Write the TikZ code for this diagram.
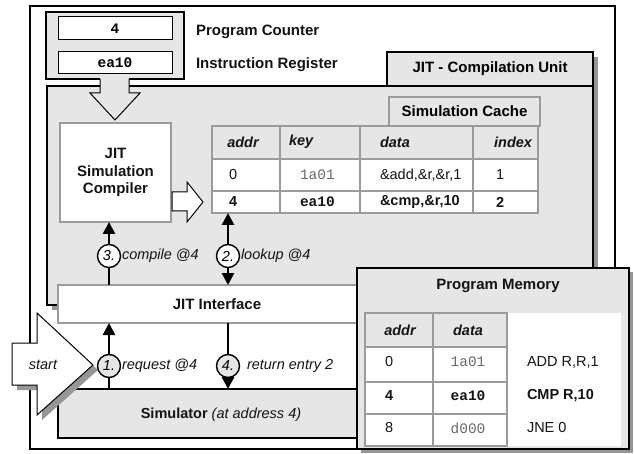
\documentclass[tikz,border=0pt]{standalone}
\usepackage{fontspec}
\setmainfont{Liberation Sans}
\setmonofont{Liberation Mono}
\usetikzlibrary{arrows.meta}
\definecolor{lg}{RGB}{230,230,230}
\definecolor{sh}{RGB}{150,150,150}
\definecolor{bd}{RGB}{155,155,155}
\definecolor{codegray}{RGB}{105,105,105}
\definecolor{ink}{RGB}{20,20,20}
\tikzset{
  box/.style={inner sep=0pt, outer sep=0pt},
  txt/.style={inner sep=0pt, outer sep=0pt, text=ink},
  grid/.style={draw=bd, line width=2pt},
  arr/.style={line width=2.6pt, -{Triangle[width=12pt,length=12pt]}},
  darr/.style={line width=2.6pt, {Triangle[width=12pt,length=12pt]}-{Triangle[width=12pt,length=12pt]}},
  circ/.style={circle, draw, line width=1.4pt, minimum size=23pt, inner sep=0pt, font=\fontsize{14.5}{17}\selectfont\itshape},
  hollow/.style={draw, line width=1pt, line join=miter},
}
\begin{document}
\begin{tikzpicture}[x=1pt,y=-1pt, font=\fontsize{14.5}{17}\selectfont]
\useasboundingbox[fill=white] (0,0) rectangle (634,454);

% outer frame
\node[box, draw, line width=1.2pt, fill=white, minimum width=585pt, minimum height=443pt] (frame) at (322.5,227.5) {};

% register box
\node[box, draw, line width=2pt, fill=lg, minimum width=138pt, minimum height=67pt] (reg) at (115,45.5) {};
\node[box, draw, line width=1pt, fill=white, minimum width=114pt, minimum height=23pt, font=\fontsize{14.5}{17}\selectfont\ttfamily\bfseries] (pc) at (115,28.5) {4};
\node[box, draw, line width=1pt, fill=white, minimum width=114pt, minimum height=22pt, font=\fontsize{14.5}{17}\selectfont\ttfamily\bfseries] (ir) at (115,63) {ea10};
\node[txt, anchor=west, font=\fontsize{15}{17}\selectfont\bfseries] (pclbl) at (196,32) {Program Counter};
\node[txt, anchor=west, font=\fontsize{15}{17}\selectfont\bfseries] (irlbl) at (196,65) {Instruction Register};

% compilation unit shadow + region
\fill[sh] (52,91) rectangle (598,310);
\fill[sh] (392,57) rectangle (598,91);
\node[box, draw, line width=1.2pt, fill=lg, minimum width=546pt, minimum height=219pt] (cu) at (320,195.5) {};
\node[box, draw, line width=1.6pt, fill=lg, minimum width=206pt, minimum height=34pt, font=\fontsize{15}{17}\selectfont\bfseries] (cutab) at (490,69) {JIT - Compilation Unit};

% down arrow from registers
\fill[lg] (100,76) -- (100,93) -- (90,93) -- (115,120) -- (140,93) -- (129,93) -- (129,76) -- cycle;
\draw[line width=1pt, line join=miter] (100,79) -- (100,93) -- (90,93) -- (115,120) -- (140,93) -- (129,93) -- (129,79);

% simulation cache
\node[box, draw=bd, line width=1.6pt, fill=lg, minimum width=151pt, minimum height=29pt, font=\fontsize{15}{17}\selectfont\bfseries] (cachetab) at (464.5,111.5) {Simulation Cache};
\fill[lg] (212,126) rectangle (538,159);
\fill[white] (212,159) rectangle (538,213);
\foreach \x in {212,280,360,473,538} \draw[grid] (\x,126) -- (\x,213);
\foreach \y in {126,159,191,213} \draw[grid] (211,\y) -- (539,\y);
\node[txt, font=\fontsize{14.5}{17}\selectfont\bfseries\itshape] (h1) at (243,142) {addr};
\node[txt, anchor=west, font=\fontsize{14.5}{17}\selectfont\bfseries\itshape] (h2) at (289,142) {key};
\node[txt, anchor=west, font=\fontsize{14.5}{17}\selectfont\bfseries\itshape] (h3) at (380,142) {data};
\node[txt, anchor=east, font=\fontsize{14.5}{17}\selectfont\bfseries\itshape] (h4) at (532,142) {index};
\node[txt, anchor=west] (r1a) at (229,175) {0};
\node[txt, anchor=west, text=codegray, font=\fontsize{14.5}{17}\selectfont\ttfamily] (r1b) at (300,175) {1a01};
\node[txt, anchor=west] (r1c) at (380,175) {\&add,\&r,\&r,1};
\node[txt, anchor=west] (r1d) at (496,175) {1};
\node[txt, anchor=west, font=\fontsize{14.5}{17}\selectfont\bfseries] (r2a) at (229,202) {4};
\node[txt, anchor=west, font=\fontsize{14.5}{17}\selectfont\ttfamily\bfseries] (r2b) at (300,202) {ea10};
\node[txt, anchor=west, font=\fontsize{14.5}{17}\selectfont\bfseries] (r2c) at (380,202) {\&cmp,\&r,10};
\node[txt, anchor=west, font=\fontsize{14.5}{17}\selectfont\bfseries] (r2d) at (496,202) {2};
\coordinate (tablebottom) at (228,213);

% compiler
\node[box, draw=bd, line width=1.2pt, fill=white, minimum width=111pt, minimum height=99pt, align=center, text=ink, font=\fontsize{15}{17.5}\selectfont\bfseries] (comp) at (115.5,172.5) {JIT\\Simulation\\Compiler};
\draw[hollow, fill=white] (172,192) -- (187,192) -- (187,182) -- (203,202) -- (187,222) -- (187,211) -- (172,211) -- cycle;

% JIT interface and simulator
\node[box, draw=bd, line width=1.2pt, fill=white, minimum width=542pt, minimum height=38pt] (jit) at (329,304) {};
\node[txt, font=\fontsize{15}{17}\selectfont\bfseries] (jitlbl) at (217,304) {JIT Interface};
\node[box, draw, line width=1.6pt, fill=lg, minimum width=542pt, minimum height=49pt] (sim) at (329,413.5) {};
\node[txt] (simlbl) at (221,415) {\textbf{Simulator} \textit{(at address 4)}};

% start arrow
\fill[sh] (17,348) -- (42,348) -- (42,318) -- (98,370) -- (42,420) -- (42,390) -- (17,390) -- cycle;
\draw[hollow, fill=white] (12,343) -- (37,343) -- (37,313) -- (93,365) -- (37,415) -- (37,385) -- (12,385) -- cycle;
\node[txt, font=\fontsize{14.5}{17}\selectfont\itshape] (start) at (43,365) {start};

% arrows and circles
\coordinate (p3) at (109,256);
\coordinate (p2) at (228,256);
\coordinate (p1) at (109,366);
\coordinate (p4) at (228,366);
\draw[arr] (p3 |- jit.north) -- (p3 |- comp.south);
\draw[darr] (p2 |- jit.north) -- (tablebottom);
\draw[arr] (p1 |- sim.north) -- (p1 |- jit.south);
\draw[arr] (p4 |- jit.south) -- (p4 |- sim.north);
\node[circ, fill=white] (c3) at (p3) {3.};
\node[circ, fill=white] (c2) at (p2) {2.};
\node[circ, fill=lg] (c1) at (p1) {1.};
\node[circ, fill=lg] (c4) at (p4) {4.};
\node[txt, anchor=west, font=\fontsize{14.5}{17}\selectfont\itshape] (l3) at (122,256) {compile @4};
\node[txt, anchor=west, font=\fontsize{14.5}{17}\selectfont\itshape] (l2) at (241,256) {lookup @4};
\node[txt, anchor=west, font=\fontsize{14.5}{17}\selectfont\itshape] (l1) at (122,366) {request @4};
\node[txt, anchor=west, font=\fontsize{14.5}{17}\selectfont\itshape] (l4) at (247,366) {return entry 2};

% program memory
\fill[sh] (361,272) rectangle (633,453);
\node[box, draw, line width=1.6pt, fill=lg, minimum width=272pt, minimum height=181pt] (pm) at (493,358.5) {};
\node[txt, font=\fontsize{15}{17}\selectfont\bfseries] (pmlbl) at (498,286) {Program Memory};
\fill[white] (365,313) rectangle (621,446);
\fill[lg] (365,313) rectangle (507,347);
\foreach \x in {365,433,507} \draw[grid] (\x,313) -- (\x,446);
\foreach \y in {313,347,382,414,446} \draw[grid] (364,\y) -- (508,\y);
\node[txt, font=\fontsize{14.5}{17}\selectfont\bfseries\itshape] (ph1) at (400,330) {addr};
\node[txt, font=\fontsize{14.5}{17}\selectfont\bfseries\itshape] (ph2) at (468,330) {data};
\node[txt, anchor=west] (p1a) at (385,362) {0};
\node[txt, text=codegray, font=\fontsize{14.5}{17}\selectfont\ttfamily] (p1b) at (468,362) {1a01};
\node[txt, anchor=west] (p1c) at (527,362) {ADD R,R,1};
\node[txt, anchor=west, font=\fontsize{14.5}{17}\selectfont\bfseries] (p2a) at (385,396) {4};
\node[txt, font=\fontsize{14.5}{17}\selectfont\ttfamily\bfseries] (p2b) at (468,396) {ea10};
\node[txt, anchor=west, font=\fontsize{14.5}{17}\selectfont\bfseries] (p2c) at (527,396) {CMP R,10};
\node[txt, anchor=west] (p3a) at (385,428) {8};
\node[txt, text=codegray, font=\fontsize{14.5}{17}\selectfont\ttfamily] (p3b) at (468,428) {d000};
\node[txt, anchor=west] (p3c) at (527,428) {JNE 0};
\end{tikzpicture}
\end{document}
